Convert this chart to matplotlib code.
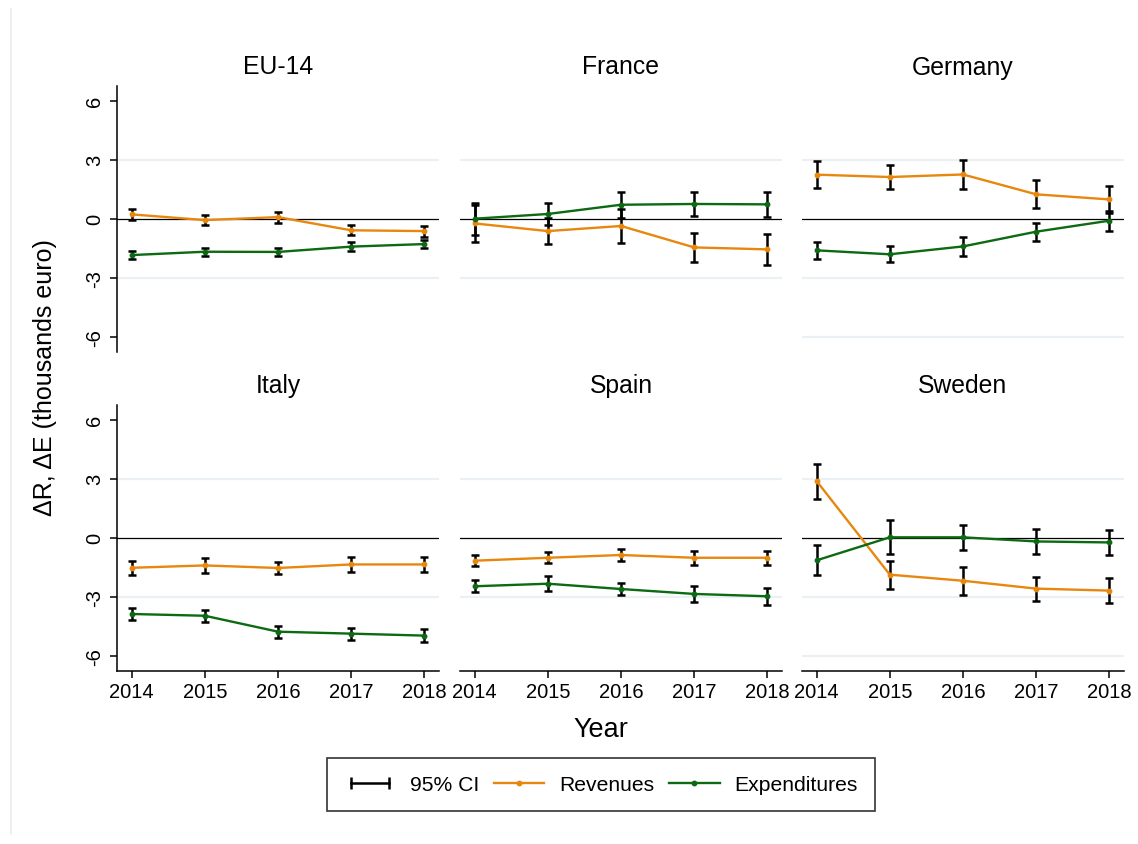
import numpy as np
import matplotlib
matplotlib.use("Agg")
import matplotlib.pyplot as plt
from matplotlib.lines import Line2D
from matplotlib.legend_handler import HandlerLine2D

plt.rcParams['font.family'] = ['Liberation Sans', 'DejaVu Sans']

# ---- data (thousands euro) ----
years = [2014, 2015, 2016, 2017, 2018]
panels = ["EU-14", "France", "Germany", "Italy", "Spain", "Sweden"]

rev = {
    "EU-14":   [0.22, -0.07, 0.08, -0.59, -0.63],
    "France":  [-0.24, -0.63, -0.37, -1.46, -1.56],
    "Germany": [2.24, 2.12, 2.25, 1.24, 0.98],
    "Italy":   [-1.53, -1.41, -1.54, -1.36, -1.36],
    "Spain":   [-1.17, -1.02, -0.88, -1.02, -1.02],
    "Sweden":  [2.88, -1.88, -2.19, -2.59, -2.69],
}
rev_ci = {
    "EU-14":   [0.29, 0.24, 0.28, 0.26, 0.28],
    "France":  [0.95, 0.65, 0.85, 0.74, 0.78],
    "Germany": [0.67, 0.63, 0.75, 0.72, 0.69],
    "Italy":   [0.36, 0.39, 0.31, 0.39, 0.40],
    "Spain":   [0.28, 0.28, 0.31, 0.35, 0.36],
    "Sweden":  [0.89, 0.72, 0.70, 0.61, 0.64],
}
exp_ = {
    "EU-14":   [-1.85, -1.68, -1.69, -1.42, -1.29],
    "France":  [0.00, 0.24, 0.71, 0.75, 0.73],
    "Germany": [-1.61, -1.81, -1.41, -0.66, -0.10],
    "Italy":   [-3.88, -3.97, -4.78, -4.88, -4.98],
    "Spain":   [-2.47, -2.34, -2.61, -2.86, -2.98],
    "Sweden":  [-1.15, 0.02, 0.02, -0.19, -0.24],
}
exp_ci = {
    "EU-14":   [0.22, 0.20, 0.22, 0.21, 0.22],
    "France":  [0.81, 0.56, 0.67, 0.61, 0.63],
    "Germany": [0.45, 0.41, 0.47, 0.46, 0.51],
    "Italy":   [0.31, 0.31, 0.31, 0.31, 0.32],
    "Spain":   [0.31, 0.39, 0.30, 0.41, 0.42],
    "Sweden":  [0.77, 0.86, 0.63, 0.62, 0.64],
}

orange = '#e8870e'
green = '#0b6a12'
grid_c = '#eaf0f3'

W, H = 1138, 845
fig = plt.figure(figsize=(W / 100, H / 100), dpi=100)

lefts = [117, 460, 802]
tops = [87, 406]
aw, ah = 322, 266

for i, name in enumerate(panels):
    r, c = divmod(i, 3)
    ax = fig.add_axes([lefts[c] / W, 1 - (tops[r] + ah) / H, aw / W, ah / H])
    gl = [-3, 3] + ([-6] if c == 2 else [])
    for g in gl:
        ax.axhline(g, color=grid_c, lw=1.6, zorder=0)
    ax.axhline(0, color='black', lw=0.9, zorder=1)

    ax.errorbar(years, rev[name], yerr=rev_ci[name], fmt='none', ecolor='black',
                elinewidth=1.8, capsize=3.2, capthick=1.8, zorder=2)
    ax.errorbar(years, exp_[name], yerr=exp_ci[name], fmt='none', ecolor='black',
                elinewidth=1.8, capsize=3.2, capthick=1.8, zorder=2)
    ax.plot(years, rev[name], color=orange, lw=1.7, marker='o', ms=3.2, zorder=3)
    ax.plot(years, exp_[name], color=green, lw=1.7, marker='o', ms=3.2, zorder=3)

    ax.set_xlim(2013.8, 2018.2)
    ax.set_ylim(-6.78, 6.75)
    ax.set_title(name, fontsize=17.8, pad=9)

    for s in ['top', 'right']:
        ax.spines[s].set_visible(False)
    ax.spines['left'].set_visible(c == 0)
    ax.spines['bottom'].set_visible(r == 1)
    ax.spines['left'].set_linewidth(1.1)
    ax.spines['bottom'].set_linewidth(1.1)

    ax.set_yticks([-6, -3, 0, 3, 6])
    ax.set_yticklabels(['-6', '-3', '0', '3', '6'])
    ax.set_xticks(years)
    ax.tick_params(axis='y', left=(c == 0), labelleft=(c == 0), rotation=90,
                   labelsize=14.5, length=5, width=1.1, pad=4)
    ax.tick_params(axis='x', bottom=(r == 1), labelbottom=(r == 1),
                   labelsize=14.5, length=5, width=1.1, pad=3)
    for lab in ax.get_yticklabels():
        lab.set_va('center')

fig.text(45 / W, 1 - 378 / H, 'ΔR, ΔE (thousands euro)', rotation=90,
         ha='center', va='center', fontsize=18)
fig.text(601 / W, 1 - 730 / H, 'Year', ha='center', va='center', fontsize=19.5)

# faint outer region edge
fig.add_artist(Line2D([11 / W, 11 / W], [10 / H, 1 - 10 / H], color='#e9eef0', lw=1.2))

ci_h = Line2D([0], [0], color='black', lw=1.8, marker='|', ms=8, mew=1.8)
rev_h = Line2D([0], [0], color=orange, lw=1.7, marker='o', ms=3.2)
exp_h = Line2D([0], [0], color=green, lw=1.7, marker='o', ms=3.2)
leg = fig.legend([ci_h, rev_h, exp_h], ['95% CI', 'Revenues', 'Expenditures'],
                 loc='center', bbox_to_anchor=(601 / W, 1 - 785.5 / H), ncol=3,
                 fontsize=15.2, frameon=True, fancybox=False, edgecolor='black',
                 handlelength=2.4, handletextpad=0.7, columnspacing=0.7,
                 borderpad=0.8, borderaxespad=0,
                 handler_map={ci_h: HandlerLine2D(numpoints=2)})
leg.get_frame().set_linewidth(1.2)

fig.savefig('out.png', dpi=100)
